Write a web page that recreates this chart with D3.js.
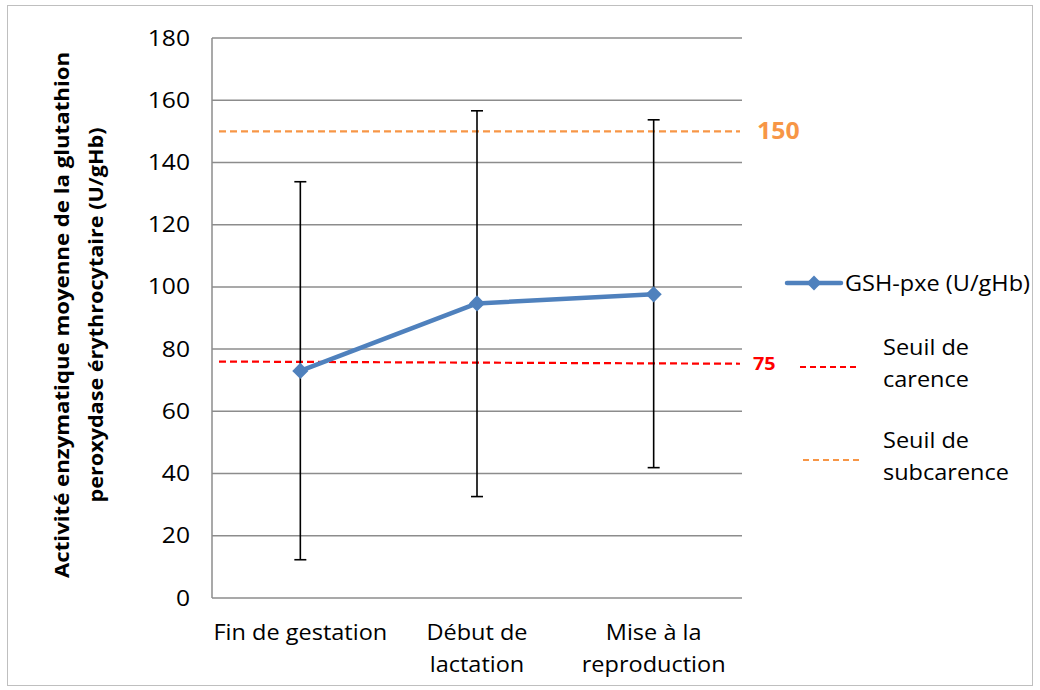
<!DOCTYPE html>
<html><head><meta charset="utf-8">
<script src="https://cdn.jsdelivr.net/npm/d3@7"></script>
<style>body{margin:0;background:#fff}</style>
</head><body>
<svg id="c" width="1040" height="690"></svg>
<script>
const categories = [["Fin de gestation"], ["Début de", "lactation"], ["Mise à la", "reproduction"]];
const catKeys = ["Fin de gestation", "Début de lactation", "Mise à la reproduction"];
const means = [73.0, 94.7, 97.6];
const errLow = [12.3, 32.6, 41.9];
const errHigh = [133.8, 156.6, 153.7];
const seuilCarence = [76.0, 75.3];
const seuilSubcarence = [150.0, 150.0];
const yTicks = [0, 20, 40, 60, 80, 100, 120, 140, 160, 180];
const seriesName = "GSH-pxe (U/gHb)";
const labelCarence = "75";
const labelSubcarence = "150";

const svg = d3.select("#c");
const font = "'Open Sans', sans-serif";
const SX = 1.12;
svg.append("rect").attr("x", 7.5).attr("y", 5.5).attr("width", 1025).attr("height", 680)
  .attr("fill", "#fff").attr("stroke", "#bfbfbf").attr("stroke-width", 1);

function addText(parent, px, py, str, size, anchor, sx) {
  return parent.append("text").attr("transform", `translate(${px},${py}) scale(${sx || SX},1)`)
    .attr("text-anchor", anchor || "start").attr("font-family", font).attr("font-size", size)
    .attr("fill", "#000").text(str);
}

const L = 212, R = 742, T = 38, B = 598;
const x = d3.scaleBand().domain(catKeys).range([L, R]);
const y = d3.scaleLinear().domain([0, 180]).range([B, T]);
const cx = k => x(k) + x.bandwidth() / 2;

// gridlines
svg.append("g").selectAll("line").data(yTicks).join("line")
  .attr("x1", L).attr("x2", R).attr("y1", d => y(d)).attr("y2", d => y(d))
  .attr("stroke", "#8c8c8c").attr("stroke-width", 1.5);
svg.append("line").attr("x1", L).attr("x2", L).attr("y1", T).attr("y2", B)
  .attr("stroke", "#8c8c8c").attr("stroke-width", 1.5);

// y axis labels
const yAxis = d3.axisLeft(y).tickValues(yTicks).tickSize(0).tickPadding(22);
const ga = svg.append("g").attr("transform", `translate(${L},0)`).call(yAxis);
ga.select(".domain").remove();
ga.selectAll("text").attr("font-family", font).attr("font-size", 22).attr("fill", "#000")
  .attr("x", -22 / SX).attr("transform", `scale(${SX},1)`);

// x labels
const gx = svg.append("g");
categories.forEach((lines, i) => {
  lines.forEach((ln, j) => addText(gx, cx(catKeys[i]), 640 + j * 32, ln, 21, "middle"));
});

// threshold lines
const thrX = [219, 740];
svg.append("line").attr("x1", thrX[0]).attr("x2", thrX[1])
  .attr("y1", y(seuilSubcarence[0])).attr("y2", y(seuilSubcarence[1]))
  .attr("stroke", "#F79646").attr("stroke-width", 2.2).attr("stroke-dasharray", "7,4");
svg.append("line").attr("x1", thrX[0]).attr("x2", thrX[1])
  .attr("y1", y(seuilCarence[0])).attr("y2", y(seuilCarence[1]))
  .attr("stroke", "#FF0000").attr("stroke-width", 2.2).attr("stroke-dasharray", "7,4");

// error bars
const eb = svg.append("g").attr("stroke", "#000").attr("stroke-width", 1.6);
catKeys.forEach((k, i) => {
  const X = cx(k);
  eb.append("line").attr("x1", X).attr("x2", X).attr("y1", y(errLow[i])).attr("y2", y(errHigh[i]));
  eb.append("line").attr("x1", X - 6).attr("x2", X + 6).attr("y1", y(errLow[i])).attr("y2", y(errLow[i]));
  eb.append("line").attr("x1", X - 6).attr("x2", X + 6).attr("y1", y(errHigh[i])).attr("y2", y(errHigh[i]));
});

// series line
const pts = catKeys.map((k, i) => [cx(k), y(means[i])]);
svg.append("path").attr("d", d3.line()(pts)).attr("fill", "none")
  .attr("stroke", "#4F81BD").attr("stroke-width", 4.5).attr("stroke-linejoin", "round");
svg.append("g").selectAll("path").data(pts).join("path")
  .attr("transform", d => `translate(${d[0]},${d[1]}) rotate(45)`)
  .attr("d", d3.symbol().type(d3.symbolSquare).size(130)).attr("fill", "#4F81BD");

// threshold labels
addText(svg, 757, y(seuilSubcarence[1]) + 8, labelSubcarence, 23, "start", 1.08)
  .attr("font-weight", "bold").attr("fill", "#F79646");
addText(svg, 753, y(seuilCarence[1]) + 6, labelCarence, 18, "start", 1.1)
  .attr("font-weight", "bold").attr("fill", "#FF0000");

// legend
const lg = svg.append("g");
lg.append("line").attr("x1", 787).attr("x2", 841).attr("y1", 283).attr("y2", 283)
  .attr("stroke", "#4F81BD").attr("stroke-width", 4.5).attr("stroke-linecap", "round");
lg.append("path").attr("transform", "translate(814,283) rotate(45)")
  .attr("d", d3.symbol().type(d3.symbolSquare).size(110)).attr("fill", "#4F81BD");
addText(lg, 845, 291, seriesName, 21);
lg.append("line").attr("x1", 800).attr("x2", 860).attr("y1", 367).attr("y2", 367)
  .attr("stroke", "#FF0000").attr("stroke-width", 2).attr("stroke-dasharray", "6,4");
lg.append("line").attr("x1", 803).attr("x2", 863).attr("y1", 460).attr("y2", 460)
  .attr("stroke", "#F79646").attr("stroke-width", 2).attr("stroke-dasharray", "6,4");
[["Seuil de", "carence", 355], ["Seuil de", "subcarence", 448]].forEach(([a, b, yy]) => {
  addText(lg, 883, yy, a, 21);
  addText(lg, 883, yy + 32, b, 21);
});

// y title
svg.append("text").attr("transform", "translate(69,315) rotate(-90)").attr("text-anchor", "middle")
  .attr("font-family", font).attr("font-size", 19).attr("font-weight", "bold")
  .attr("textLength", 526).attr("lengthAdjust", "spacingAndGlyphs")
  .text("Activité enzymatique moyenne de la glutathion");
svg.append("text").attr("transform", "translate(103,315) rotate(-90)").attr("text-anchor", "middle")
  .attr("font-family", font).attr("font-size", 19).attr("font-weight", "bold")
  .attr("textLength", 375).attr("lengthAdjust", "spacingAndGlyphs")
  .text("peroxydase érythrocytaire (U/gHb)");
</script>
</body></html>
